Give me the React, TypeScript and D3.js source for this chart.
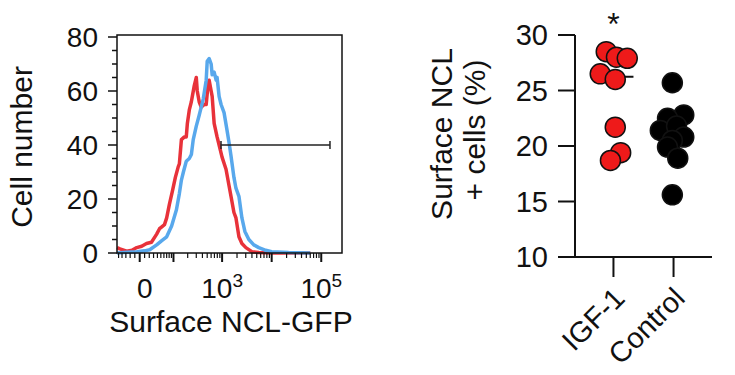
import React from 'react';
import * as d3 from 'd3';

// ---------- Histogram data (fluorescence value, cell count) ----------
const blueX = [-55, -28, -6, 10, 21, 38, 52, 70, 91, 116, 134, 148, 163, 187, 216, 238, 260, 300, 344, 378, 415, 477, 500, 548, 601, 630, 691, 758, 792, 870, 954, 1095, 1256, 1378, 1511, 1734, 1904, 2186, 2510, 2882, 3466, 4360, 5496, 7590, 9990, 21900, 60000];
const blueY = [0, 0.3, 0.5, 0.8, 1.2, 3, 4.5, 6, 10, 16, 22, 27, 30, 34, 35, 36.5, 42, 47, 51, 54, 57, 64, 71, 72, 70, 66, 67, 64, 65, 58, 55, 52, 45.5, 41, 36, 28, 24, 21, 13, 8, 5, 3, 2, 1, 0.5, 0.2, 0];
const redX = [-55, -46, -28, -16, -6, 4, 14, 25, 38, 46, 52, 62, 70, 81, 95, 110, 127, 134, 148, 171, 187, 197, 216, 238, 249, 273, 300, 314, 344, 378, 435, 477, 524, 548, 601, 630, 691, 792, 870, 998, 1200, 1378, 1511, 1734, 1904, 2186, 2510, 3018, 3980, 5496, 9990, 60000];
const redY = [2, 1.5, 0.7, 1, 2, 2.5, 3.5, 4, 7, 9, 9.6, 10.5, 13, 18, 23, 28, 32, 33, 42, 43, 43, 48, 53, 56, 58, 62, 65, 60, 56, 54, 55, 55, 63, 64, 60, 58, 48, 43, 40, 35.5, 31, 25, 21, 15, 13, 6, 3.5, 2, 0.5, 0.2, 0, 0];
const gateRange = [950, 150000];
const gateLevel = 40;

const leftYTicks = [0, 20, 40, 60, 80];
const leftYMinor = d3.range(0, 81, 5);
const xMajorTicks = [0, 100, 1000, 10000, 100000];
const xTickLabels = [
  { v: 0, base: '0', exp: '' },
  { v: 1000, base: '10', exp: '3' },
  { v: 100000, base: '10', exp: '5' },
];

// ---------- Dot plot data ----------
const categories = ['IGF-1', 'Control'];
const igfValues = [28.5, 28.0, 27.9, 26.5, 26.0, 21.7, 19.4, 18.7];
const igfJitter = [-0.12, 0.05, 0.23, -0.22, 0.03, 0.03, 0.12, -0.05];
const ctrlValues = [25.7, 22.8, 22.5, 21.4, 21.8, 20.8, 20.5, 19.9, 18.9, 15.6];
const ctrlJitter = [-0.02, 0.17, -0.1, -0.22, 0.05, 0.17, -0.02, -0.1, 0.07, -0.02];
const rightYTicks = [10, 15, 20, 25, 30];

const FONT = "'Liberation Sans', Arial, Helvetica, sans-serif";
const RED_LINE = '#e8323a';
const BLUE_LINE = '#58a8ec';
const RED_DOT = '#ee1a1a';

const C = 43.6;
const T = (v: number) => Math.asinh(v / C);

export default function App() {
  // ---- left histogram scales ----
  const xT = d3.scaleLinear().domain([T(-55), T(262144)]).range([117, 342]);
  const xs = (v: number) => xT(T(v));
  const yL = d3.scaleLinear().domain([0, 80]).range([253, 37]);

  const line = d3
    .line<[number, number]>()
    .x((d) => xs(d[0]))
    .y((d) => yL(d[1]))
    .curve(d3.curveLinear);

  const bluePts = blueX.map((x, i) => [x, blueY[i]] as [number, number]);
  const redPts = redX.map((x, i) => [x, redY[i]] as [number, number]);

  const xMinor: number[] = [];
  for (let k = 1; k <= 4; k++) {
    for (let m = 2; m <= 9; m++) xMinor.push(m * Math.pow(10, k));
  }
  [-10, -20, -30, -40, -50, 10].forEach((v) => xMinor.push(v));

  // ---- right dot plot scales ----
  const xc = d3.scalePoint<string>().domain(categories).range([575, 712]).padding(0.64);
  const step = xc.step();
  const yR = d3.scaleLinear().domain([10, 30]).range([257, 35]);

  const median = (a: number[]) => d3.median(a) as number;

  const groups = [
    { cat: categories[0], vals: igfValues, jit: igfJitter, fill: RED_DOT },
    { cat: categories[1], vals: ctrlValues, jit: ctrlJitter, fill: '#000' },
  ];

  return (
    <svg width={735} height={375} style={{ display: 'block', position: 'absolute', left: 0, top: 0, background: '#fff' }} fontFamily={FONT}>
      <rect x={0} y={0} width={735} height={375} fill="#fff" />
      {/* ===== Left histogram ===== */}
      <g>
        <path d={line(redPts) || ''} fill="none" stroke={RED_LINE} strokeWidth={3.5} strokeLinejoin="round" />
        <path d={line(bluePts) || ''} fill="none" stroke={BLUE_LINE} strokeWidth={3.5} strokeLinejoin="round" />
        {/* frame */}
        <rect x={117} y={35} width={225} height={218} fill="none" stroke="#111" strokeWidth={1.5} />
        {/* gate */}
        <line x1={xs(gateRange[0])} x2={xs(gateRange[1])} y1={yL(gateLevel)} y2={yL(gateLevel)} stroke="#222" strokeWidth={1.5} />
        {gateRange.map((g, i) => (
          <line key={i} x1={xs(g)} x2={xs(g)} y1={yL(gateLevel) - 4} y2={yL(gateLevel) + 4} stroke="#222" strokeWidth={1.5} />
        ))}
        {/* y ticks */}
        {leftYMinor.map((t) => (
          <line key={'ym' + t} x1={t % 20 === 0 ? 108 : 112} x2={117} y1={yL(t)} y2={yL(t)} stroke="#111" strokeWidth={1.5} />
        ))}
        {leftYTicks.map((t) => (
          <text key={'yl' + t} x={98} y={yL(t)} dy="0.36em" textAnchor="end" fontSize={28} fill="#111">
            {t}
          </text>
        ))}
        {/* x ticks */}
        {xMinor.map((t, i) => (
          <line key={'xm' + i} x1={xs(t)} x2={xs(t)} y1={253} y2={258} stroke="#111" strokeWidth={1.2} />
        ))}
        {xMajorTicks.map((t) => (
          <line key={'xM' + t} x1={xs(t)} x2={xs(t)} y1={253} y2={262} stroke="#111" strokeWidth={2} />
        ))}
        {xTickLabels.map((t) => (
          <text key={'xl' + t.v} x={xs(t.v) + (t.exp ? 0 : 5)} y={298} textAnchor="middle" fontSize={28} fill="#111">
            {t.base}
            {t.exp && (
              <tspan dy={-11} fontSize={19}>
                {t.exp}
              </tspan>
            )}
          </text>
        ))}
        <text x={231} y={332} textAnchor="middle" fontSize={30} fill="#111">
          Surface NCL-GFP
        </text>
        <text transform={`translate(32,147) rotate(-90)`} textAnchor="middle" fontSize={30} fill="#111">
          Cell number
        </text>
      </g>

      {/* ===== Right dot plot ===== */}
      <g>
        {/* axes */}
        <line x1={575} x2={575} y1={yR(30)} y2={yR(10)} stroke="#111" strokeWidth={2} />
        <line x1={558} x2={712} y1={yR(10)} y2={yR(10)} stroke="#111" strokeWidth={2} />
        {rightYTicks.map((t) => (
          <g key={'ry' + t}>
            <line x1={558} x2={575} y1={yR(t)} y2={yR(t)} stroke="#111" strokeWidth={2} />
            <text x={548} y={yR(t)} dy="0.36em" textAnchor="end" fontSize={29} fill="#111">
              {t}
            </text>
          </g>
        ))}
        {categories.map((c) => (
          <g key={'cx' + c}>
            <line x1={xc(c)} x2={xc(c)} y1={yR(10)} y2={yR(10) + 20} stroke="#111" strokeWidth={2} />
            <text
              transform={`translate(${(xc(c) as number) + 13},${300}) rotate(-45)`}
              textAnchor="end"
              fontSize={29}
              fill="#111"
            >
              {c}
            </text>
          </g>
        ))}
        {/* medians */}
        {groups.map((g) => (
          <line
            key={'med' + g.cat}
            x1={(xc(g.cat) as number) - 20}
            x2={(xc(g.cat) as number) + 20}
            y1={yR(median(g.vals))}
            y2={yR(median(g.vals))}
            stroke="#111"
            strokeWidth={2}
          />
        ))}
        {/* dots */}
        {groups.map((g) =>
          g.vals.map((v, i) => (
            <circle
              key={g.cat + i}
              cx={(xc(g.cat) as number) + g.jit[i] * step}
              cy={yR(v)}
              r={10}
              fill={g.fill}
              stroke="#111"
              strokeWidth={1.5}
            />
          ))
        )}
        {/* significance */}
        <text x={xc(categories[0])} y={35} textAnchor="middle" fontSize={32} fill="#111">
          *
        </text>
        {/* y title */}
        <text transform={`translate(452,134) rotate(-90)`} textAnchor="middle" fontSize={30} fill="#111">
          Surface NCL
        </text>
        <text transform={`translate(485,130) rotate(-90)`} textAnchor="middle" fontSize={30} fill="#111">
          + cells (%)
        </text>
      </g>
    </svg>
  );
}
